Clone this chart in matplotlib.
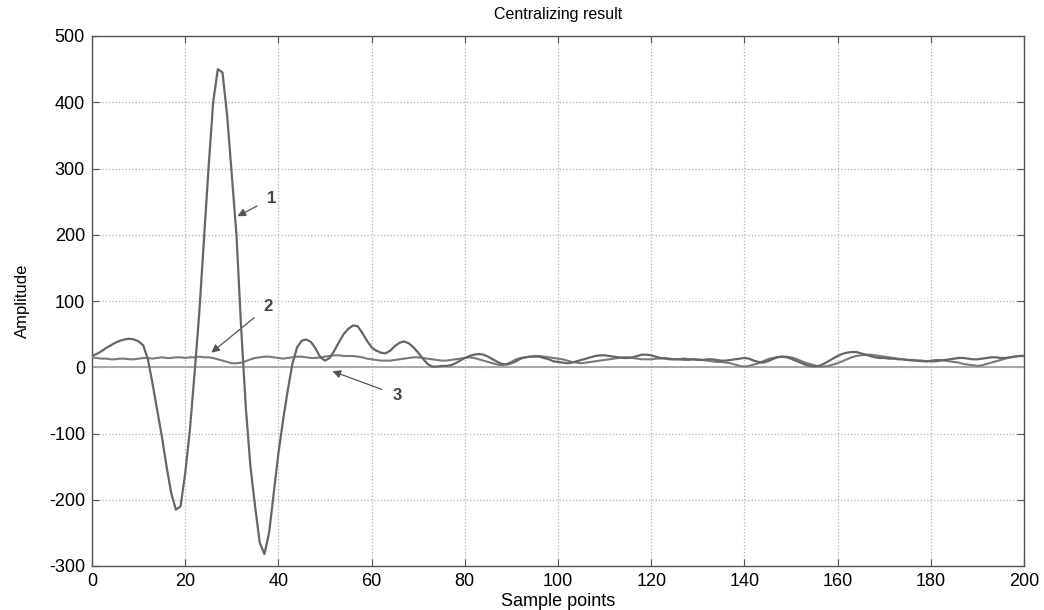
import matplotlib
matplotlib.use("Agg")
import matplotlib.pyplot as plt
import numpy as np

plt.rcParams['font.family'] = ['Liberation Sans', 'DejaVu Sans']

samples = list(range(0, 201))

curve1 = [17, 20, 24, 29, 33, 37, 40, 42, 43, 42,
          39, 33, 12, -25, -65, -105, -150, -190, -215, -210,
          -160, -95, -10, 80, 190, 300, 400, 450, 445, 380,
          290, 200, 60, -60, -150, -210, -265, -282, -250, -190,
          -130, -80, -35, 5, 30, 40, 42, 38, 28, 15,
          10, 14, 25, 38, 50, 58, 63, 62, 52, 40,
          30, 25, 22, 21, 25, 32, 37, 39, 36, 30,
          22, 13, 5, 1, 1, 2, 2, 3, 6, 10,
          14, 17, 19, 20, 19, 16, 12, 8, 5, 4,
          6, 9, 13, 15, 16, 16, 16, 14, 12, 9,
          8, 7, 6, 7, 9, 11, 13, 15, 17, 18,
          18, 17, 16, 15, 14, 14, 15, 17, 19, 19,
          18, 16, 14, 13, 12, 12, 12, 13, 12, 12,
          11, 11, 12, 12, 11, 10, 10, 11, 12, 13,
          14, 13, 10, 8, 7, 9, 12, 15, 16, 15,
          13, 10, 7, 4, 2, 1, 2, 5, 9, 13,
          17, 20, 22, 23, 23, 21, 19, 17, 15, 14,
          14, 13, 13, 12, 12, 11, 11, 10, 10, 9,
          9, 9, 10, 11, 12, 13, 14, 14, 13, 12,
          12, 13, 14, 15, 15, 14, 14, 15, 16, 17,
          17]

curve2 = [15, 14, 13, 13, 12, 12, 13, 13, 12, 12,
          13, 14, 14, 13, 14, 15, 14, 14, 15, 15,
          14, 15, 15, 16, 15, 15, 14, 12, 10, 8,
          6, 6, 7, 9, 12, 14, 15, 16, 16, 15,
          14, 13, 14, 15, 16, 16, 15, 14, 14, 15,
          16, 17, 18, 18, 17, 17, 17, 16, 15, 13,
          12, 11, 10, 10, 10, 11, 12, 13, 14, 15,
          15, 14, 13, 12, 11, 10, 10, 11, 12, 13,
          14, 15, 14, 12, 10, 8, 6, 4, 3, 5,
          8, 12, 14, 15, 16, 17, 17, 16, 15, 14,
          13, 12, 10, 8, 7, 6, 7, 8, 9, 10,
          11, 12, 13, 14, 15, 15, 14, 13, 12, 12,
          12, 13, 13, 14, 13, 12, 12, 11, 11, 12,
          12, 11, 10, 9, 8, 8, 7, 6, 4, 2,
          1, 2, 4, 6, 9, 12, 14, 15, 16, 16,
          15, 13, 10, 7, 5, 3, 1, 1, 2, 4,
          6, 9, 12, 15, 17, 18, 19, 19, 18, 17,
          16, 15, 14, 13, 12, 11, 10, 10, 9, 9,
          10, 11, 11, 10, 9, 8, 7, 5, 4, 3,
          2, 3, 5, 7, 9, 11, 13, 15, 16, 17,
          17]

curve3_x = [0, 200]
curve3_y = [0, 0]

x_ticks = [0, 20, 40, 60, 80, 100, 120, 140, 160, 180, 200]
y_ticks = [-300, -200, -100, 0, 100, 200, 300, 400, 500]

labels = ["1", "2", "3"]
label_text_pos = [(38.6, 255), (37.8, 92), (65.5, -42)]
label_arrow_tip = [(31.2, 228), (25.6, 22), (51.6, -6)]

fig = plt.figure(figsize=(10.44, 6.10), dpi=100)
ax = fig.add_axes([92/1044, 1 - 566/610, (1024-92)/1044, (566-36)/610])

ax.plot(curve3_x, curve3_y, color='#a8a8a8', lw=1.4, zorder=2)
ax.plot(samples, curve2, color='#7a7a7a', lw=1.5, zorder=3)
ax.plot(samples, curve1, color='#666666', lw=1.6, zorder=4)

ax.set_xlim(0, 200)
ax.set_ylim(-300, 500)
ax.set_xticks(x_ticks)
ax.set_yticks(y_ticks)
ax.set_xticklabels([str(v) for v in x_ticks], fontsize=13)
ax.set_yticklabels([str(v) for v in y_ticks], fontsize=13)
ax.tick_params(direction='in', length=5, top=True, right=True, color='#555555')
ax.tick_params(axis='y', pad=5)
ax.tick_params(axis='x', pad=5)
ax.grid(True, linestyle=':', color='#b0b0b0', lw=0.9)
for s in ax.spines.values():
    s.set_color('#555555')
    s.set_linewidth(1.0)

ax.set_title("Centralizing result", fontsize=11.5, pad=12)
ax.set_xlabel("Sample points", fontsize=13, labelpad=2)
ax.set_ylabel("Amplitude", fontsize=12, labelpad=14)

for lab, tp, tip in zip(labels, label_text_pos, label_arrow_tip):
    ax.annotate(lab, xy=tip, xytext=tp, fontsize=12, fontweight='bold', color='#444444',
                ha='center', va='center',
                arrowprops=dict(arrowstyle='-|>', color='#555555', lw=0.9,
                                mutation_scale=12, shrinkA=6, shrinkB=0))

fig.savefig("out.png", dpi=100)
